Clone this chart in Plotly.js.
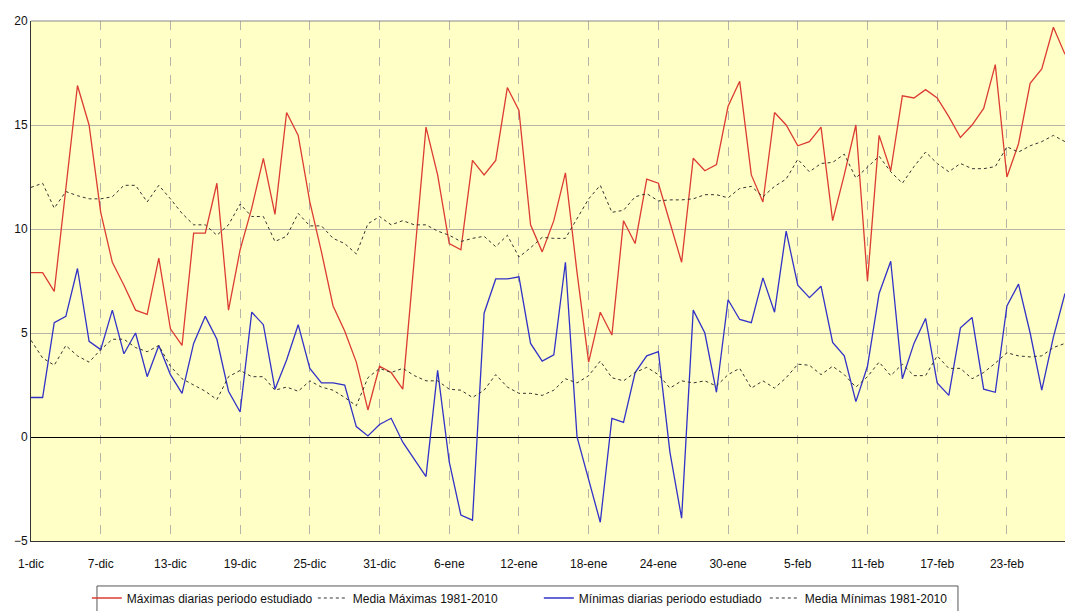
<!DOCTYPE html>
<html><head><meta charset="utf-8">
<script src="https://cdn.plot.ly/plotly-3.0.1.min.js"></script>
<style>html,body{margin:0;padding:0;background:#fff}#chart{width:1068px;height:611px}</style>
</head><body><div id="chart"></div>
<script>
const monthNames = ['dic', 'ene', 'feb'];
const monthLengths = [31, 31, 28];
const tickLabels = ['1-dic','7-dic','13-dic','19-dic','25-dic','31-dic','6-ene','12-ene','18-ene','24-ene','30-ene','5-feb','11-feb','17-feb','23-feb'];
const yTicks = [-5, 0, 5, 10, 15, 20];

const maxDaily = [
 7.9, 7.9, 7.0, 12.0, 16.9, 15.0, 10.8, 8.4, 7.3, 6.1,
 5.9, 8.6, 5.2, 4.4, 9.8, 9.8, 12.2, 6.1, 9.0, 11.0,
 13.4, 10.7, 15.6, 14.5, 11.3, 8.9, 6.3, 5.1, 3.6, 1.3,
 3.4, 3.1, 2.3, 8.6, 14.9, 12.6, 9.3, 9.0, 13.3, 12.6,
 13.3, 16.8, 15.7, 10.2, 8.9, 10.4, 12.7, 7.9, 3.6, 6.0,
 4.9, 10.4, 9.3, 12.4, 12.2, 10.3, 8.4, 13.4, 12.8, 13.1,
 15.9, 17.1, 12.6, 11.3, 15.6, 15.0, 14.0, 14.2, 14.9, 10.4,
 12.6, 15.0, 7.5, 14.5, 12.8, 16.4, 16.3, 16.7, 16.3, 15.4,
 14.4, 15.0, 15.8, 17.9, 12.5, 14.1, 17.0, 17.7, 19.7, 18.4
];
const maxMean = [
 12.0, 12.2, 11.0, 11.8, 11.6, 11.45, 11.45, 11.55, 12.1, 12.1,
 11.3, 12.1, 11.45, 10.75, 10.2, 10.2, 9.7, 10.2, 11.2, 10.6,
 10.6, 9.4, 9.65, 10.75, 10.15, 10.15, 9.55, 9.3, 8.8, 10.25,
 10.6, 10.2, 10.4, 10.2, 10.2, 9.9, 9.7, 9.4, 9.55, 9.65,
 9.15, 9.7, 8.65, 9.1, 9.6, 9.55, 9.55, 10.5, 11.45, 12.1,
 10.8, 10.9, 11.55, 11.7, 11.35, 11.4, 11.4, 11.45, 11.65, 11.65,
 11.5, 11.95, 12.05, 11.55, 12.05, 12.4, 13.35, 12.75, 13.15, 13.2,
 13.6, 12.45, 13.0, 13.5, 12.75, 12.2, 13.0, 13.7, 13.15, 12.75,
 13.15, 12.9, 12.9, 13.0, 13.95, 13.7, 14.0, 14.2, 14.5, 14.2
];
const minDaily = [
 1.9, 1.9, 5.5, 5.8, 8.1, 4.6, 4.2, 6.1, 4.0, 5.0,
 2.9, 4.4, 3.0, 2.1, 4.5, 5.8, 4.7, 2.2, 1.2, 6.0,
 5.4, 2.3, 3.7, 5.4, 3.3, 2.6, 2.6, 2.5, 0.5, 0.05,
 0.6, 0.9, -0.25, -1.1, -1.9, 3.2, -1.2, -3.75, -4.0, 5.95,
 7.6, 7.6, 7.7, 4.5, 3.65, 3.95, 8.4, 0.0, -2.05, -4.1,
 0.9, 0.7, 3.1, 3.9, 4.1, -0.75, -3.9, 6.1, 5.0, 2.15,
 6.6, 5.65, 5.5, 7.65, 6.0, 9.9, 7.3, 6.7, 7.25, 4.55,
 3.9, 1.7, 3.4, 6.9, 8.45, 2.8, 4.5, 5.7, 2.6, 2.0,
 5.25, 5.75, 2.3, 2.15, 6.3, 7.35, 5.0, 2.25, 4.8, 6.9
];
const minMean = [
 4.65, 3.8, 3.45, 4.4, 3.9, 3.6, 4.2, 4.7, 4.7, 4.3,
 4.1, 4.4, 3.4, 2.8, 2.5, 2.2, 1.8, 2.9, 3.2, 2.9,
 2.9, 2.25, 2.4, 2.2, 2.7, 2.4, 2.25, 1.9, 1.5, 2.85,
 3.3, 3.1, 3.3, 2.95, 2.7, 2.7, 2.3, 2.25, 1.9, 2.25,
 3.0, 2.4, 2.1, 2.1, 2.0, 2.25, 2.8, 2.6, 2.95, 3.65,
 2.85, 2.7, 3.1, 3.35, 3.0, 2.35, 2.7, 2.6, 2.7, 2.45,
 3.0, 3.3, 2.35, 2.7, 2.35, 2.85, 3.5, 3.45, 3.0, 3.4,
 3.0, 2.4, 2.9, 3.6, 2.95, 3.5, 2.95, 2.95, 3.9, 3.3,
 3.3, 2.8, 3.1, 3.55, 4.05, 3.9, 3.85, 3.9, 4.3, 4.5
];
const seriesNames = ['Máximas diarias periodo estudiado', 'Media Máximas 1981-2010', 'Mínimas diarias periodo estudiado', 'Media Mínimas 1981-2010'];

const days = [];
monthNames.forEach((m, i) => { for (let d = 1; d <= monthLengths[i]; d++) days.push(d + '-' + m); });

const font = {family: 'Arial, "Liberation Sans", sans-serif', size: 12, color: '#111'};
const dashMean = {color: '#333', width: 1, dash: '3px,3px'};

const traces = [
  {x: days, y: maxDaily, name: seriesNames[0], mode: 'lines', line: {color: '#dc3c32', width: 1.3}},
  {x: days, y: maxMean, name: seriesNames[1], mode: 'lines', line: dashMean},
  {x: days, y: minDaily, name: seriesNames[2], mode: 'lines', line: {color: '#3232c8', width: 1.3}},
  {x: days, y: minMean, name: seriesNames[3], mode: 'lines', line: dashMean}
];

const layout = {
  width: 1068, height: 611,
  margin: {l: 31, r: 3, t: 21, b: 70, autoexpand: false},
  paper_bgcolor: '#ffffff',
  plot_bgcolor: '#ffffc6',
  font: font,
  showlegend: true,
  legend: {
    orientation: 'h', x: 0.054, xanchor: 'left', y: -0.1096, yanchor: 'middle',
    entrywidth: 181, entrywidthmode: 'pixels',
    bgcolor: 'rgba(0,0,0,0)', borderwidth: 0, font: font,
    itemclick: false, itemdoubleclick: false
  },
  xaxis: {
    type: 'category', range: [0, 89],
    tickmode: 'array', tickvals: tickLabels, ticktext: tickLabels,
    showgrid: true, gridcolor: '#b4b4a8', griddash: 'dash', gridwidth: 1,
    showline: true, linecolor: '#333', linewidth: 1,
    zeroline: false, ticks: '', ticklabelstandoff: 12, tickfont: font, fixedrange: true
  },
  yaxis: {
    range: [-5, 20], tickmode: 'array', tickvals: yTicks,
    showgrid: true, gridcolor: '#b4b4a8', gridwidth: 1,
    zeroline: true, zerolinecolor: '#000', zerolinewidth: 1,
    showline: true, linecolor: '#333', linewidth: 1,
    ticks: '', tickfont: font, fixedrange: true
  },
  shapes: [
    {type: 'line', xref: 'paper', yref: 'paper', x0: 0, x1: 1, y0: 1, y1: 1, line: {color: '#888', width: 1}},
    {type: 'rect', xref: 'paper', yref: 'paper', x0: 0.0638, x1: 0.8965, y0: -0.0865, y1: -0.16, line: {color: '#555', width: 1}, fillcolor: 'rgba(0,0,0,0)'}
  ]
};

Plotly.newPlot('chart', traces, layout, {displayModeBar: false, staticPlot: true});
</script>
</body></html>
